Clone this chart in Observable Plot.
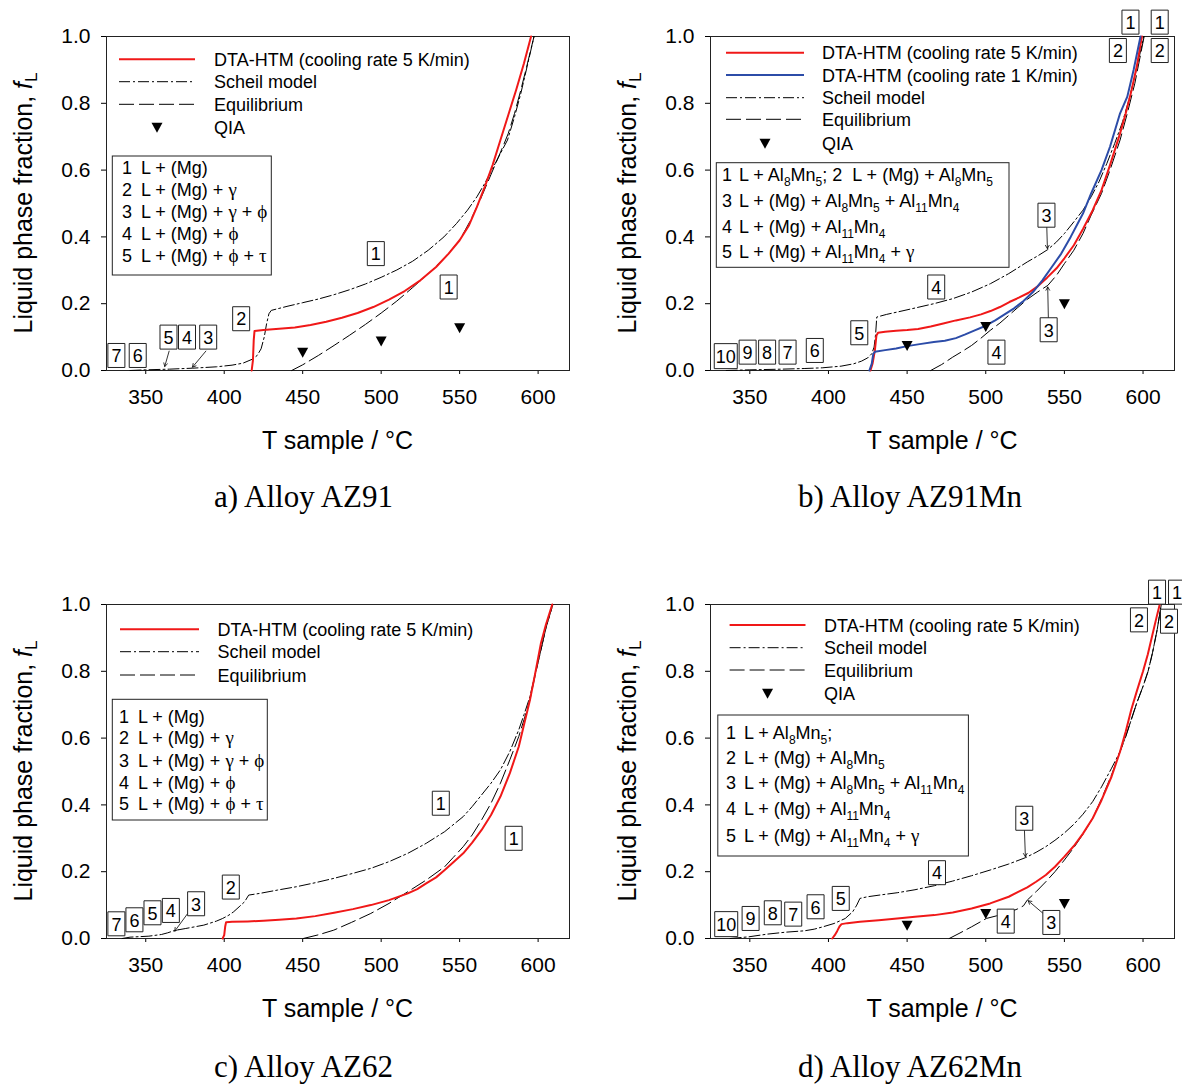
<!DOCTYPE html>
<html>
<head>
<meta charset="utf-8">
<script src="https://cdn.jsdelivr.net/npm/d3@7"></script>
<script src="https://cdn.jsdelivr.net/npm/@observablehq/plot@0.6"></script>
<style>
  body { margin: 0; background: #fff; }
  #root { position: relative; width: 1182px; height: 1084px; overflow: hidden; background: #fff; }
  .panel { position: absolute; }
  .panel svg { max-width: none !important; overflow: visible; }
  .cap { position: absolute; font-family: "Times New Roman", "Liberation Serif", serif; font-size: 31px; line-height: 36px; white-space: nowrap; transform: translateX(-50%); color: #000; }
</style>
</head>
<body>
<div id="root"></div>
<script>
// ---------------- data ----------------
const tempTicks = [350, 400, 450, 500, 550, 600];
const fracTicks = [0, 0.2, 0.4, 0.6, 0.8, 1.0];

// a) AZ91   [T °C, fL]
const az91_dta5 = [[417.5,0],[418.3,0.03],[418.8,0.09],[419.3,0.118],[425,0.121],[435,0.125],[445,0.129],[455,0.136],[465,0.146],[475,0.158],[485,0.172],[495,0.19],[505,0.212],[515,0.238],[525,0.27],[535,0.31],[543,0.35],[550,0.39],[556,0.435],[561,0.49],[566,0.55],[571,0.615],[576,0.69],[581,0.765],[586,0.84],[591,0.92],[595.5,1.0]];
const az91_scheil = [[340,0],[350,0.002],[365,0.004],[380,0.007],[395,0.011],[405,0.016],[412,0.022],[418,0.034],[421,0.045],[423.5,0.065],[425.5,0.1],[427,0.14],[428.5,0.17],[430,0.18],[440,0.192],[450,0.203],[460,0.214],[470,0.227],[480,0.242],[490,0.259],[500,0.279],[510,0.301],[520,0.327],[530,0.36],[540,0.4],[548,0.44],[555,0.48],[561,0.52],[566,0.56],[571,0.605],[576,0.65],[580.5,0.69],[585,0.76],[589,0.83],[593,0.91],[597.4,1.0]];
const az91_equil = [[443,0],[450,0.017],[460,0.045],[470,0.075],[480,0.106],[490,0.138],[500,0.172],[510,0.208],[520,0.248],[530,0.29],[540,0.335],[550,0.39],[557,0.45],[563,0.51],[568,0.565],[573,0.62],[578,0.675],[581,0.71],[585,0.77],[589,0.84],[593,0.915],[597.4,1.0]];
const az91_qia = [[450,0.055],[500,0.088],[550,0.128]];
const az91_labels = [["7",331.3,0.045],["6",344.9,0.045],["5",364.5,0.1],["4",376.3,0.1],["3",389.8,0.1],["2",410.8,0.155],["1",496.6,0.35],["1",543,0.25]];
const az91_arrows = [[364.9,0.058,362.1,0.012],[388.3,0.058,379.8,0.01]];
const az91_legend = [["dta5","DTA-HTM (cooling rate 5 K/min)"],["scheil","Scheil model"],["equil","Equilibrium"],["qia","QIA"]];
const az91_phases = [["1","L + (Mg)"],["2","L + (Mg) + γ"],["3","L + (Mg) + γ + ϕ"],["4","L + (Mg) + ϕ"],["5","L + (Mg) + ϕ + τ"]];

// b) AZ91Mn
const az91mn_dta5 = [[426.7,0],[428,0.02],[429.5,0.06],[430.5,0.105],[431.5,0.113],[436,0.116],[443,0.119],[450,0.121],[457,0.124],[465,0.132],[473,0.141],[481,0.15],[490,0.159],[497,0.168],[503,0.178],[509,0.19],[515,0.205],[521,0.218],[527,0.232],[533,0.252],[539,0.278],[545,0.306],[550,0.336],[556,0.375],[562,0.425],[568,0.48],[573.6,0.54],[579,0.615],[585.4,0.71],[589,0.77],[592.5,0.835],[596,0.91],[599.3,1.0]];
const az91mn_dta1 = [[426,0],[427.5,0.02],[428.5,0.05],[429.5,0.056],[436,0.061],[443,0.066],[450,0.073],[458,0.079],[467,0.085],[474,0.089],[481,0.097],[487,0.108],[493,0.12],[500,0.134],[506,0.15],[512,0.168],[518,0.186],[524,0.208],[530,0.235],[536,0.27],[542,0.31],[548,0.35],[554,0.4],[561.8,0.47],[567,0.53],[573.6,0.6],[579,0.67],[585.4,0.77],[590,0.82],[594,0.9],[598.4,1.0]];
const az91mn_scheil = [[335,0],[350,0.002],[370,0.004],[385,0.006],[396,0.008],[408,0.013],[416,0.02],[421,0.028],[425,0.038],[427.5,0.05],[429,0.07],[430,0.11],[430.7,0.16],[437,0.168],[443.7,0.175],[455,0.187],[467,0.2],[479,0.215],[491,0.235],[503,0.26],[514.6,0.29],[526.4,0.325],[533,0.343],[539.4,0.362],[545,0.385],[550,0.41],[556,0.445],[561.8,0.48],[567,0.52],[572,0.565],[577,0.62],[582,0.68],[587,0.745],[591,0.81],[595,0.885],[600.5,1.0]];
const az91mn_equil = [[465,0],[472,0.018],[479,0.04],[485,0.057],[491,0.075],[497,0.097],[502.8,0.12],[509,0.142],[514.6,0.165],[520,0.187],[526.4,0.213],[533,0.235],[539.5,0.255],[545,0.285],[550,0.32],[556,0.36],[561.8,0.41],[567,0.465],[573.6,0.53],[579,0.6],[585.4,0.69],[590,0.77],[594.8,0.86],[600.7,1.0]];
const az91mn_qia = [[450,0.075],[500,0.132],[550,0.2]];
const az91mn_labels = [["10",334.7,0.043],["9",348.6,0.055],["8",361,0.055],["7",374,0.055],["6",391.3,0.06],["5",419.6,0.113],["4",468.5,0.25],["4",506.8,0.055],["3",538.6,0.465],["3",540,0.122],["1",592,1.043],["1",610.6,1.043],["2",584,0.958],["2",610.6,0.958]];
const az91mn_arrows = [[538.8,0.43,539.2,0.365],[539.8,0.157,539.4,0.25]];
const az91mn_legend = [["dta5","DTA-HTM (cooling rate 5 K/min)"],["dta1","DTA-HTM (cooling rate 1 K/min)"],["scheil","Scheil model"],["equil","Equilibrium"],["qia","QIA"]];
const az91mn_phases = [["1","L + Al_{8}Mn_{5}; 2  L + (Mg) + Al_{8}Mn_{5}"],["3","L + (Mg) + Al_{8}Mn_{5} + Al_{11}Mn_{4}"],["4","L + (Mg) + Al_{11}Mn_{4}"],["5","L + (Mg) + Al_{11}Mn_{4} + γ"]];

// c) AZ62
const az62_dta5 = [[399,0],[400,0.01],[400.6,0.035],[401.2,0.049],[405,0.05],[415,0.051],[425,0.053],[435,0.056],[446,0.06],[458,0.067],[470,0.077],[482,0.088],[493.4,0.1],[505,0.115],[517,0.135],[523,0.148],[528.7,0.165],[535,0.183],[540.5,0.205],[546,0.228],[552.3,0.255],[558,0.287],[564,0.325],[570,0.37],[576,0.425],[582,0.495],[587.7,0.575],[591,0.64],[594.8,0.714],[598,0.79],[601.8,0.884],[605,0.94],[609,1.0]];
const az62_scheil = [[335,0],[340,0.004],[352,0.007],[360,0.012],[364,0.017],[368.4,0.024],[375.5,0.03],[387,0.04],[395,0.052],[399,0.06],[403,0.07],[406,0.08],[410,0.097],[413,0.11],[415.6,0.13],[422.6,0.135],[434,0.145],[446,0.155],[458,0.167],[469.8,0.18],[482,0.195],[493.4,0.21],[505,0.23],[517,0.255],[528.7,0.285],[540.5,0.32],[552.3,0.365],[558,0.395],[564,0.43],[570,0.465],[576,0.505],[582,0.56],[587.7,0.625],[591,0.67],[594.8,0.724],[598,0.79],[601.8,0.864],[605,0.93],[609.4,1.0]];
const az62_equil = [[450.4,0],[460,0.011],[469.8,0.025],[481,0.048],[493.4,0.075],[505,0.105],[517,0.14],[528.7,0.175],[540.5,0.215],[546,0.243],[552.3,0.275],[558,0.31],[564,0.355],[570,0.405],[576,0.465],[582,0.535],[587.7,0.605],[591,0.655],[594.8,0.715],[598,0.785],[601.8,0.864],[605,0.93],[609.4,1.0]];
const az62_labels = [["7",331.3,0.044],["6",342.8,0.056],["5",354.3,0.077],["4",366,0.084],["3",382.1,0.104],["2",404.2,0.154],["1",538,0.405],["1",584.4,0.3]];
const az62_arrows = [[376.6,0.074,368.5,0.022]];
const az62_legend = [["dta5","DTA-HTM (cooling rate 5 K/min)"],["scheil","Scheil model"],["equil","Equilibrium"]];
const az62_phases = [["1","L + (Mg)"],["2","L + (Mg) + γ"],["3","L + (Mg) + γ + ϕ"],["4","L + (Mg) + ϕ"],["5","L + (Mg) + ϕ + τ"]];

// d) AZ62Mn
const az62mn_dta5 = [[402.4,0],[404,0.01],[405.5,0.022],[407,0.036],[408.3,0.043],[412,0.046],[420,0.05],[432,0.055],[443.7,0.06],[455,0.065],[467.3,0.07],[479,0.078],[491,0.09],[502.8,0.105],[514.6,0.125],[520,0.138],[526.4,0.153],[532,0.17],[538.2,0.19],[544,0.215],[550,0.245],[556,0.277],[561.8,0.314],[568,0.36],[573.6,0.414],[580,0.485],[585.4,0.56],[589,0.62],[592.5,0.685],[596,0.74],[600,0.8],[603,0.85],[606,0.91],[608.5,0.96],[610.6,1.0]];
const az62mn_scheil = [[337.5,0],[349.3,0.005],[361,0.013],[373,0.019],[384.7,0.023],[391,0.028],[396.5,0.035],[403.6,0.045],[410.7,0.06],[415.4,0.08],[418,0.1],[420,0.12],[424.8,0.125],[434,0.131],[443.7,0.137],[455,0.146],[467.3,0.158],[479,0.172],[491,0.188],[502.8,0.205],[514.6,0.223],[525.2,0.242],[532,0.258],[538.2,0.275],[544,0.294],[550,0.316],[556,0.342],[561.8,0.372],[568,0.41],[573.6,0.454],[580,0.51],[585.4,0.56],[589,0.605],[592.5,0.655],[596,0.705],[600,0.755],[603.2,0.8],[606,0.855],[609,0.925],[611.6,1.0]];
const az62mn_equil = [[476.8,0],[483,0.015],[491,0.035],[500.4,0.06],[507,0.068],[514.6,0.078],[520,0.088],[524,0.098],[526.4,0.115],[532,0.14],[538.2,0.17],[544,0.2],[550,0.235],[556,0.272],[561.8,0.312],[568,0.36],[573.6,0.418],[580,0.49],[585.4,0.56],[589,0.605],[592.5,0.655],[596,0.705],[600,0.755],[603.2,0.8],[606,0.855],[609,0.925],[611.6,1.0]];
const az62mn_qia = [[450,0.04],[500,0.075],[550,0.105]];
const az62mn_labels = [["10",335,0.043],["9",350.5,0.06],["8",364.6,0.077],["7",377.6,0.073],["6",391.8,0.095],["5",407.8,0.12],["4",469,0.197],["4",512.7,0.052],["3",524.5,0.36],["3",541.7,0.048],["1",608.9,1.037],["1",621.6,1.037],["2",597.4,0.954],["2",616.5,0.95]];
const az62mn_arrows = [[524.6,0.324,525.2,0.245],[536.5,0.075,527,0.113]];
const az62mn_legend = [["dta5","DTA-HTM (cooling rate 5 K/min)"],["scheil","Scheil model"],["equil","Equilibrium"],["qia","QIA"]];
const az62mn_phases = [["1","L + Al_{8}Mn_{5};"],["2","L + (Mg) + Al_{8}Mn_{5}"],["3","L + (Mg) + Al_{8}Mn_{5} + Al_{11}Mn_{4}"],["4","L + (Mg) + Al_{11}Mn_{4}"],["5","L + (Mg) + Al_{11}Mn_{4} + γ"]];

const captions = ["a) Alloy AZ91", "b) Alloy AZ91Mn", "c) Alloy AZ62", "d) Alloy AZ62Mn"];

// ---------------- styles ----------------
const FONT = "Arial, 'Liberation Sans', Helvetica, sans-serif";
const SERIF = "'Times New Roman', 'Liberation Serif', serif";
const RED = "#f01818";
const BLUE = "#2c4ca8";
const PFS = 18; // phase box font size
const STY = {
  dta5:   {stroke: RED, width: 2, dash: null},
  dta1:   {stroke: BLUE, width: 2, dash: null},
  scheil: {stroke: "#000", width: 1, dash: "11,3,2,3"},
  equil:  {stroke: "#000", width: 1, dash: "15,5"}
};

const boxSym = {draw(ctx) { ctx.rect(-8.5, -12, 17, 24); }};
const wideBoxSym = {draw(ctx) { ctx.rect(-11.5, -12.5, 23, 25); }};
const downTri = {draw(ctx) { ctx.moveTo(-5.5, -4.5); ctx.lineTo(5.5, -4.5); ctx.lineTo(0, 5.5); ctx.closePath(); }};

function richText(sel, str, size) {
  const parts = str.split(/(_\{[^}]*\}|[γϕτ])/).filter(s => s !== "");
  let sub = false;
  for (const p of parts) {
    if (p.startsWith("_{")) {
      sel.append("tspan").attr("font-size", Math.round(size * 0.65)).attr("dy", sub ? 0 : 5).text(p.slice(2, -1));
      sub = true;
    } else {
      const t = sel.append("tspan");
      if (sub) { t.attr("dy", -5); sub = false; }
      if (/[γϕτ]/.test(p)) t.attr("font-family", SERIF).attr("font-size", size + 1);
      t.text(p);
    }
  }
}

function decor(cfg) {
  return (index, scales, values, dims) => {
    const L = dims.marginLeft, T = dims.marginTop;
    const R = dims.width - dims.marginRight, B = dims.height - dims.marginBottom;
    const g = d3.create("svg:g").attr("font-family", FONT).attr("fill", "#000").attr("text-anchor", "start");
    // axis titles
    const yt = g.append("text")
      .attr("transform", `translate(${L - 74},${(T + B) / 2}) rotate(-90)`)
      .attr("text-anchor", "middle").attr("font-size", 25);
    yt.append("tspan").text("Liquid phase fraction, ");
    yt.append("tspan").attr("font-style", "italic").text("f");
    yt.append("tspan").attr("font-size", 17).attr("dy", 5).text("L");
    g.append("text").attr("x", (L + R) / 2).attr("y", B + 79)
      .attr("text-anchor", "middle").attr("font-size", 25).text("T sample / °C");
    // legend
    const lg = cfg.leg;
    cfg.legend.forEach(([key, label], i) => {
      const y = T + lg.rows[i];
      if (key === "qia") {
        const cx = L + (lg.x1 + lg.x2) / 2;
        g.append("path").attr("d", `M${cx - 5.5},${y - 4.5}L${cx + 5.5},${y - 4.5}L${cx},${y + 5.5}Z`).attr("fill", "#000");
      } else {
        const s = STY[key];
        g.append("line").attr("x1", L + lg.x1).attr("x2", L + lg.x2).attr("y1", y).attr("y2", y)
          .attr("stroke", s.stroke).attr("stroke-width", s.width).attr("stroke-dasharray", s.dash);
      }
      g.append("text").attr("x", L + lg.tx).attr("y", y + 6.5).attr("font-size", 18).text(label);
    });
    // phase box
    const pb = cfg.pbox;
    g.append("rect").attr("x", L + pb.x).attr("y", T + pb.y).attr("width", pb.w).attr("height", pb.h)
      .attr("fill", "#fff").attr("stroke", "#222").attr("stroke-width", 1);
    cfg.phases.forEach(([num, txt], i) => {
      const y = T + pb.rows[i] + 6;
      g.append("text").attr("x", L + pb.nx).attr("y", y).attr("font-size", PFS).text(num);
      const t = g.append("text").attr("x", L + pb.tx).attr("y", y).attr("font-size", PFS).style("white-space", "pre");
      richText(t, txt, PFS);
    });
    return g.node();
  };
}

function makePanel(cfg) {
  const X = d => d[0], Y = d => d[1];
  const single = cfg.labels.filter(d => d[0].length === 1);
  const wide = cfg.labels.filter(d => d[0].length > 1);
  const marks = [
    Plot.frame({stroke: "#222", strokeWidth: 1}),
    Plot.line(cfg.equil, {x: X, y: Y, stroke: STY.equil.stroke, strokeWidth: STY.equil.width, strokeDasharray: STY.equil.dash}),
    Plot.line(cfg.scheil, {x: X, y: Y, stroke: STY.scheil.stroke, strokeWidth: STY.scheil.width, strokeDasharray: STY.scheil.dash}),
    ...cfg.series.map(([key, data]) => Plot.line(data, {x: X, y: Y, stroke: STY[key].stroke, strokeWidth: STY[key].width})),
    cfg.qia ? Plot.dot(cfg.qia, {x: X, y: Y, symbol: downTri, fill: "#000", stroke: "none"}) : null,
    Plot.arrow(cfg.arrows, {x1: d => d[0], y1: d => d[1], x2: d => d[2], y2: d => d[3], stroke: "#000", strokeWidth: 0.8, headLength: 7}),
    Plot.dot(single, {x: d => d[1], y: d => d[2], symbol: boxSym, fill: "#fff", stroke: "#222", strokeWidth: 1}),
    Plot.dot(wide, {x: d => d[1], y: d => d[2], symbol: wideBoxSym, fill: "#fff", stroke: "#222", strokeWidth: 1}),
    Plot.text(cfg.labels, {x: d => d[1], y: d => d[2], text: d => d[0], fontSize: 18, fill: "#000", dy: 1}),
    decor(cfg)
  ].filter(Boolean);
  return Plot.plot({
    width: cfg.width, height: 470,
    marginLeft: cfg.ml, marginRight: cfg.mr, marginTop: 36, marginBottom: 100,
    x: {domain: [325, 620], ticks: tempTicks, tickSize: 4, tickPadding: 15, tickFormat: d3.format("d"), label: null},
    y: {domain: [0, 1], ticks: fracTicks, tickSize: 5, tickPadding: 11, tickFormat: d3.format(".1f"), label: null},
    style: {fontFamily: FONT, fontSize: "21px", color: "#000", background: "transparent", overflow: "visible"},
    marks
  });
}

const panels = [
  {left: 0, top: 0, width: 591, ml: 106, mr: 22,
   series: [["dta5", az91_dta5]], scheil: az91_scheil, equil: az91_equil, qia: az91_qia,
   labels: az91_labels, arrows: az91_arrows, legend: az91_legend, phases: az91_phases,
   leg: {x1: 13, x2: 89, tx: 108, rows: [23.3, 45.7, 68.3, 91.3]},
   pbox: {x: 6.3, y: 120, w: 159, h: 119, nx: 16, tx: 35, rows: [132, 154, 176, 198, 220]},
   cap: [303.5, 479]},
  {left: 591, top: 0, width: 591, ml: 119, mr: 8,
   series: [["dta5", az91mn_dta5], ["dta1", az91mn_dta1]], scheil: az91mn_scheil, equil: az91mn_equil, qia: az91mn_qia,
   labels: az91mn_labels, arrows: az91mn_arrows, legend: az91mn_legend, phases: az91mn_phases,
   leg: {x1: 16, x2: 94, tx: 112, rows: [16.7, 39, 61.7, 83.3, 107.3]},
   pbox: {x: 6.3, y: 126.7, w: 292.7, h: 104.6, nx: 12, tx: 29, rows: [139, 165, 190.7, 216.3]},
   cap: [910, 479]},
  {left: 0, top: 568, width: 591, ml: 106, mr: 22,
   series: [["dta5", az62_dta5]], scheil: az62_scheil, equil: az62_equil, qia: null,
   labels: az62_labels, arrows: az62_arrows, legend: az62_legend, phases: az62_phases,
   leg: {x1: 14, x2: 93, tx: 111.5, rows: [25.3, 47.7, 71]},
   pbox: {x: 6.3, y: 95.3, w: 155, h: 120.7, nx: 13, tx: 32, rows: [112.7, 134.3, 156.7, 178.7, 200.3]},
   cap: [303.5, 1049]},
  {left: 591, top: 568, width: 591, ml: 119, mr: 8,
   series: [["dta5", az62mn_dta5]], scheil: az62mn_scheil, equil: az62mn_equil, qia: az62mn_qia,
   labels: az62mn_labels, arrows: az62mn_arrows, legend: az62mn_legend, phases: az62mn_phases,
   leg: {x1: 19.6, x2: 95.5, tx: 114, rows: [21, 43.7, 66, 89.3]},
   pbox: {x: 7.8, y: 111, w: 250.6, h: 141, nx: 16, tx: 34, rows: [129.3, 154.3, 179.3, 205.3, 232]},
   cap: [910, 1049]}
];

const root = document.getElementById("root");
panels.forEach((cfg, i) => {
  const div = document.createElement("div");
  div.className = "panel";
  div.style.left = cfg.left + "px";
  div.style.top = cfg.top + "px";
  div.appendChild(makePanel(cfg));
  root.appendChild(div);
  const cap = document.createElement("div");
  cap.className = "cap";
  cap.style.left = cfg.cap[0] + "px";
  cap.style.top = cfg.cap[1] + "px";
  cap.textContent = captions[i];
  root.appendChild(cap);
});
</script>
</body>
</html>
